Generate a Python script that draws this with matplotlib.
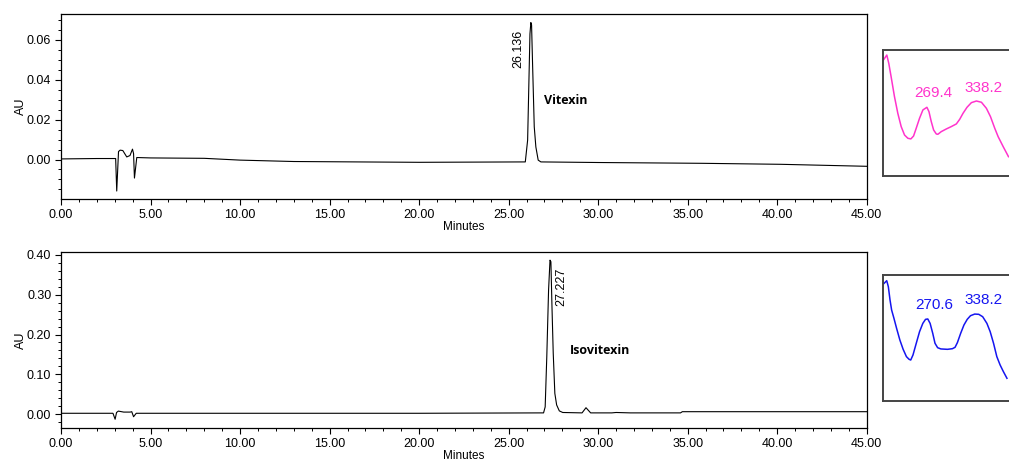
import numpy as np
import matplotlib
matplotlib.use("Agg")
import matplotlib.pyplot as plt
from matplotlib.ticker import MultipleLocator, FormatStrFormatter

plt.rcParams['font.family'] = ['Liberation Sans', 'DejaVu Sans']

# --- chromatogram 1 (Vitexin), minutes / AU
t_vit = [0.0, 2.0, 3.05, 3.11, 3.21, 3.30, 3.45, 3.67, 3.85, 3.99, 4.05, 4.10, 4.23, 5.0,
         8.0, 10.0, 13.0, 20.0, 25.93, 26.06, 26.19, 26.24, 26.28, 26.34, 26.43, 26.52,
         26.65, 26.8, 30.0, 35.8, 40.2, 45.0]
au_vit = [0.0003, 0.0005, 0.0005, -0.0158, 0.0040, 0.0047, 0.0045, 0.0013, 0.0020, 0.0052,
          0.0030, -0.0093, 0.0010, 0.0008, 0.0006, -0.0003, -0.0010, -0.0014, -0.0012, 0.0097,
          0.0630, 0.0687, 0.0675, 0.0466, 0.0164, 0.0063, -0.0003, -0.0012, -0.0015, -0.0019,
          -0.0024, -0.0034]

# --- chromatogram 2 (Isovitexin)
t_iso = [0.0, 2.0, 2.9, 3.02, 3.10, 3.20, 3.50, 3.86, 3.95, 4.05, 4.20, 8.0, 20.0, 26.95,
         27.04, 27.13, 27.23, 27.31, 27.36, 27.42, 27.49, 27.58, 27.68, 27.83, 28.02, 29.1,
         29.32, 29.58, 30.76, 31.0, 31.8, 34.6, 34.7, 45.0]
au_iso = [0.002, 0.002, 0.002, -0.013, 0.004, 0.0075, 0.005, 0.005, 0.006, -0.0067, 0.002,
          0.002, 0.002, 0.003, 0.018, 0.144, 0.312, 0.387, 0.383, 0.270, 0.153, 0.052, 0.023,
          0.008, 0.004, 0.003, 0.016, 0.003, 0.003, 0.004, 0.003, 0.003, 0.006, 0.006]

# --- UV spectra (nm / relative absorbance)
nm_vit = [209.8, 214.4, 217.1, 220.3, 224.9, 229.5, 234.1, 238.7, 243.3, 247.4, 251.1,
          254.7, 259.3, 263.9, 269.4, 272.2, 275.4, 278.6, 282.3, 284.5, 289.1, 296.0,
          302.9, 309.8, 314.4, 318.9, 324.4, 330.4, 337.3, 344.2, 351.0, 356.6, 362.5,
          367.1, 374.0, 381.3]
ab_vit = [0.921, 0.960, 0.894, 0.788, 0.630, 0.497, 0.392, 0.325, 0.299, 0.294, 0.317,
          0.378, 0.458, 0.524, 0.545, 0.511, 0.431, 0.365, 0.333, 0.331, 0.352, 0.373,
          0.392, 0.413, 0.450, 0.497, 0.545, 0.582, 0.595, 0.585, 0.537, 0.471, 0.378,
          0.312, 0.233, 0.153]
nm_iso = [210.7, 214.3, 216.5, 218.8, 221.0, 224.2, 227.8, 232.3, 236.8, 241.3, 244.9,
          247.2, 250.3, 254.8, 259.3, 263.8, 267.5, 270.6, 273.8, 277.4, 280.5, 284.1,
          288.6, 297.6, 304.4, 308.0, 311.2, 315.7, 320.2, 324.7, 329.2, 335.0, 340.5,
          345.9, 351.7, 356.2, 360.8, 365.3, 369.8, 374.3, 379.2]
ab_iso = [0.934, 0.955, 0.907, 0.802, 0.722, 0.656, 0.577, 0.484, 0.410, 0.352, 0.331,
          0.325, 0.365, 0.458, 0.550, 0.616, 0.648, 0.651, 0.616, 0.537, 0.458, 0.423,
          0.413, 0.410, 0.415, 0.426, 0.463, 0.537, 0.603, 0.648, 0.677, 0.690, 0.688,
          0.669, 0.616, 0.550, 0.458, 0.352, 0.286, 0.233, 0.180]

fig = plt.figure(figsize=(10.09, 4.63), dpi=100)

ax1 = fig.add_axes([0.0605, 0.5702, 0.7985, 0.3996])
ax2 = fig.add_axes([0.0605, 0.0756, 0.7985, 0.3801])


def style_chrom(ax, ylim, major, minor):
    ax.set_xlim(0, 45)
    ax.set_ylim(*ylim)
    ax.xaxis.set_major_locator(MultipleLocator(5))
    ax.xaxis.set_minor_locator(MultipleLocator(1))
    ax.yaxis.set_major_locator(MultipleLocator(major))
    ax.yaxis.set_minor_locator(MultipleLocator(minor))
    ax.xaxis.set_major_formatter(FormatStrFormatter('%.2f'))
    ax.yaxis.set_major_formatter(FormatStrFormatter('%.2f'))
    ax.tick_params(which='major', length=4, width=0.8, labelsize=9, pad=3)
    ax.tick_params(which='minor', length=2.5, width=0.7)
    for s in ax.spines.values():
        s.set_linewidth(0.9)
    ax.set_xlabel('Minutes', fontsize=8.5, labelpad=0)
    ax.set_ylabel('AU', fontsize=9, labelpad=0)


ax1.plot(t_vit, au_vit, color='black', lw=0.8)
style_chrom(ax1, (-0.0198, 0.073), 0.02, 0.005)
ax1.text(25.87, 0.065, '26.136', rotation=90, ha='right', va='top', fontsize=9)
ax1.text(26.96, 0.0298, 'Vitexin', ha='left', va='center', fontsize=9,
         fontweight='bold', family=['Open Sans', 'DejaVu Sans'])

ax2.plot(t_iso, au_iso, color='black', lw=0.8)
style_chrom(ax2, (-0.035, 0.4075), 0.10, 0.02)
ax2.text(27.62, 0.367, '27.227', rotation=90, ha='left', va='top', fontsize=9)
ax2.text(28.43, 0.159, 'Isovitexin', ha='left', va='center', fontsize=9,
         fontweight='bold', family=['Open Sans', 'DejaVu Sans'])

# spectra insets, they run off the right edge of the figure
in1 = fig.add_axes([0.875, 0.620, 0.138, 0.272])
in2 = fig.add_axes([0.875, 0.134, 0.138, 0.272])
for ax in (in1, in2):
    ax.set_xlim(209, 400)
    ax.set_ylim(0, 1)
    ax.set_xticks([])
    ax.set_yticks([])
    for s in ax.spines.values():
        s.set_color('#444444')
        s.set_linewidth(1.4)

pink = '#ff33cc'
blue = '#1515f0'
in1.plot(nm_vit, ab_vit, color=pink, lw=1.1)
in1.text(277.7, 0.656, '269.4', color=pink, ha='center', va='center', fontsize=11)
in1.text(346.5, 0.696, '338.2', color=pink, ha='center', va='center', fontsize=11)
in2.plot(nm_iso, ab_iso, color=blue, lw=1.1)
in2.text(279.6, 0.762, '270.6', color=blue, ha='center', va='center', fontsize=11)
in2.text(347.2, 0.802, '338.2', color=blue, ha='center', va='center', fontsize=11)

fig.savefig('out.png', dpi=100)
